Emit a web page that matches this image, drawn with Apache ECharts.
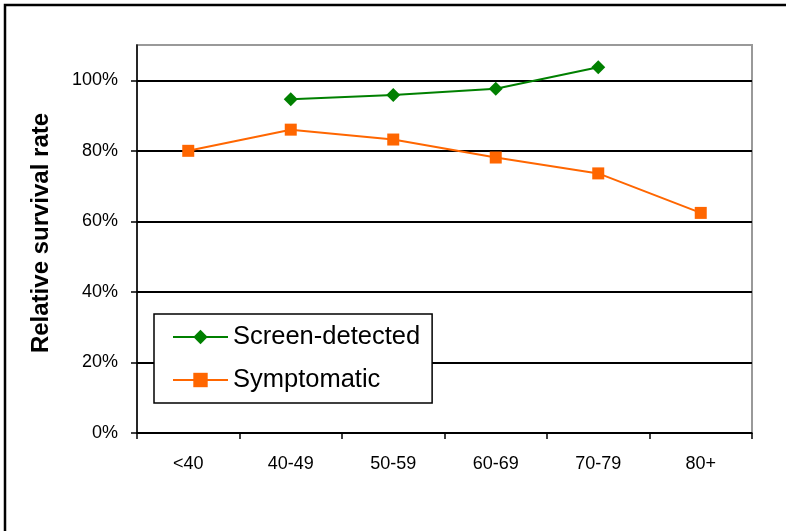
<!DOCTYPE html>
<html>
<head>
<meta charset="utf-8">
<script src="https://cdn.jsdelivr.net/npm/echarts@6/dist/echarts.min.js"></script>
<style>
  html, body { margin: 0; padding: 0; background: #fff; }
  #chart { width: 786px; height: 531px; }
</style>
</head>
<body>
<div id="chart"></div>
<script>
const categories = ['<40', '40-49', '50-59', '60-69', '70-79', '80+'];
const screenDetected = [null, 94.6, 95.8, 97.6, 103.7, null];
const symptomatic = [80.0, 86.0, 83.2, 78.1, 73.6, 62.4];
const yTicks = [0, 20, 40, 60, 80, 100];
const seriesNames = ['Screen-detected', 'Symptomatic'];
const yTitle = 'Relative survival rate';

const FONT = '"Liberation Sans", Arial, sans-serif';
const chart = echarts.init(document.getElementById('chart'), null, { renderer: 'canvas' });

chart.setOption({
  animation: false,
  backgroundColor: '#fff',
  graphic: [{
    type: 'rect',
    shape: { x: 5, y: 5, width: 800, height: 540 },
    style: { fill: 'none', stroke: '#000', lineWidth: 2.5 },
    silent: true,
    z: -1
  }],
  grid: {
    left: 137, right: 34, top: 45, bottom: 98,
    show: true, borderColor: '#999', borderWidth: 2, backgroundColor: 'transparent'
  },
  legend: {
    orient: 'vertical',
    left: 154, top: 314,
    padding: [10, 12, 10, 18],
    itemWidth: 55, itemHeight: 18, itemGap: 17,
    borderColor: '#000', borderWidth: 1.5,
    backgroundColor: '#fff',
    textStyle: { fontFamily: FONT, fontSize: 25.5, color: '#000' },
    data: seriesNames
  },
  xAxis: {
    type: 'category',
    data: categories,
    boundaryGap: true,
    axisLine: { lineStyle: { color: '#000', width: 1.5 } },
    axisTick: { show: true, length: 6, lineStyle: { color: '#000', width: 1.5 } },
    axisLabel: { margin: 22, fontFamily: FONT, fontSize: 18, color: '#000' },
    splitLine: { show: false }
  },
  yAxis: {
    type: 'value',
    min: 0, max: 110, interval: 20,
    name: yTitle,
    nameLocation: 'middle',
    nameGap: 84,
    nameTextStyle: { fontFamily: FONT, fontSize: 24, fontWeight: 'bold', color: '#000', padding: [0, 0, 0, 12] },
    axisLine: { show: true, lineStyle: { color: '#000', width: 1.5 } },
    axisTick: { show: true, length: 6, customValues: yTicks, lineStyle: { color: '#000', width: 1.5 } },
    axisLabel: {
      margin: 19, fontFamily: FONT, fontSize: 18, color: '#000',
      customValues: yTicks,
      formatter: v => (v > 100 ? '' : v + '%')
    },
    splitLine: {
      show: true,
      lineStyle: { color: ['#000', '#000', '#000', '#000', '#000', '#000', '#999'], width: 2 }
    }
  },
  series: [
    {
      name: seriesNames[0],
      type: 'line',
      data: screenDetected,
      connectNulls: false,
      symbol: 'diamond',
      symbolSize: 14,
      itemStyle: { color: '#008000' },
      lineStyle: { color: '#008000', width: 2 },
      z: 3
    },
    {
      name: seriesNames[1],
      type: 'line',
      data: symptomatic,
      symbol: 'rect',
      symbolSize: 12,
      itemStyle: { color: '#FF6600' },
      lineStyle: { color: '#FF6600', width: 2 },
      z: 3
    }
  ]
});
</script>
</body>
</html>
